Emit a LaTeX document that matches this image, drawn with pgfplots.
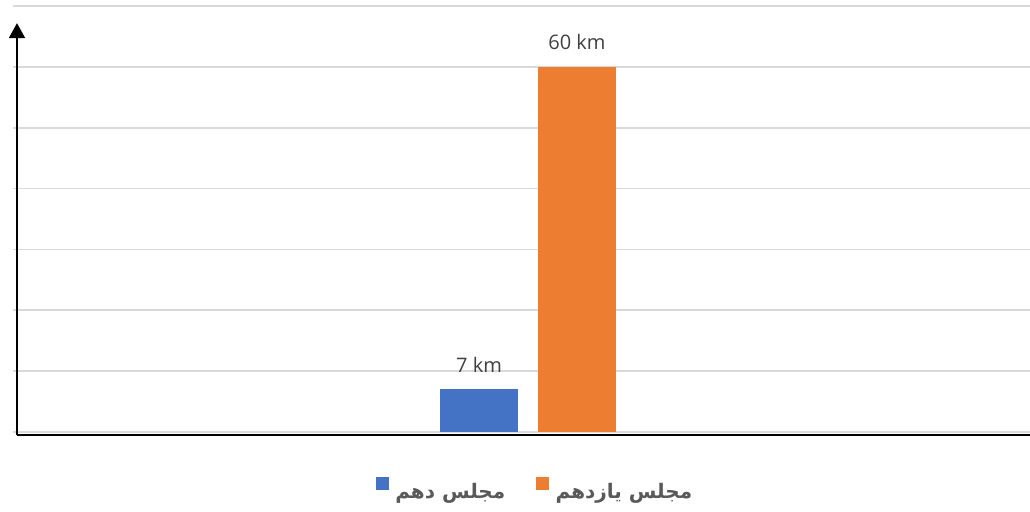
\documentclass[border=0pt]{standalone}
\usepackage{pgfplots}
\pgfplotsset{compat=1.18}
\usepackage{fontspec}
\setmainfont{Open Sans}
\newfontfamily\arabicfont[Script=Arabic]{DejaVu Sans}
\TeXXeTstate=1
\usetikzlibrary{arrows.meta}

\definecolor{barblue}{RGB}{68,114,196}
\definecolor{barorange}{RGB}{237,125,49}
\definecolor{gridgray}{RGB}{217,217,217}
\definecolor{labelgray}{RGB}{64,64,64}
\definecolor{leggray}{RGB}{89,89,89}

\pgfplotsset{sqlegend/.style={legend image code/.code={\fill[##1] (0pt,1pt) rectangle (9.75pt,10.75pt);}}}

\begin{document}
\begin{tikzpicture}
\begin{axis}[
    at={(9.75pt,59.25pt)}, anchor=south west,
    scale only axis,
    width=762.75pt, height=319.5pt,
    xmin=-5.15, xmax=5.02,
    ymin=0, ymax=70,
    ybar, bar width=0.78, bar shift=0pt,
    xtick=\empty,
    ytick={0,10,...,70}, yticklabels={},
    major tick length=0pt,
    ymajorgrids, grid style={color=gridgray, line width=1.2pt},
    axis line style={draw=none},
    clip=false,
    /pgf/number format/assume math mode=true,
    nodes near coords={\pgfmathprintnumber{\pgfplotspointmeta} km},
    every node near coord/.append style={font=\fontsize{15}{17}\selectfont, text=labelgray, yshift=9.5pt},
    legend columns=2,
    legend style={draw=none, fill=none, at={(0.5135,-0.136)}, anchor=center,
        font=\arabicfont\bfseries\fontsize{15}{18}\selectfont, text=leggray,
        /tikz/every odd column/.append style={column sep=3pt},
        /tikz/every even column/.append style={column sep=21pt}},
]
% مجلس دهم
\addplot[fill=barblue, draw=none, sqlegend] coordinates {(-0.49,7)};
\addlegendentry{\beginR مجلس دهم\endR}
% مجلس یازدهم
\addplot[fill=barorange, draw=none, sqlegend] coordinates {(0.49,60)};
\addlegendentry{\beginR مجلس یازدهم\endR}

% axes drawn by hand: arrow up, plain line along the bottom
\draw[line width=1.8pt, -{Triangle[length=11.25pt,width=11.8pt]}]
    (axis cs:-5.11,-0.49) -- (axis cs:-5.11,67.2);
\draw[line width=2pt] (axis cs:-5.11,-0.49) -- (axis cs:5.02,-0.49);
\end{axis}
\pgfresetboundingbox
\useasboundingbox (0pt,0pt) rectangle (772.5pt,383.25pt);
\end{tikzpicture}
\end{document}
